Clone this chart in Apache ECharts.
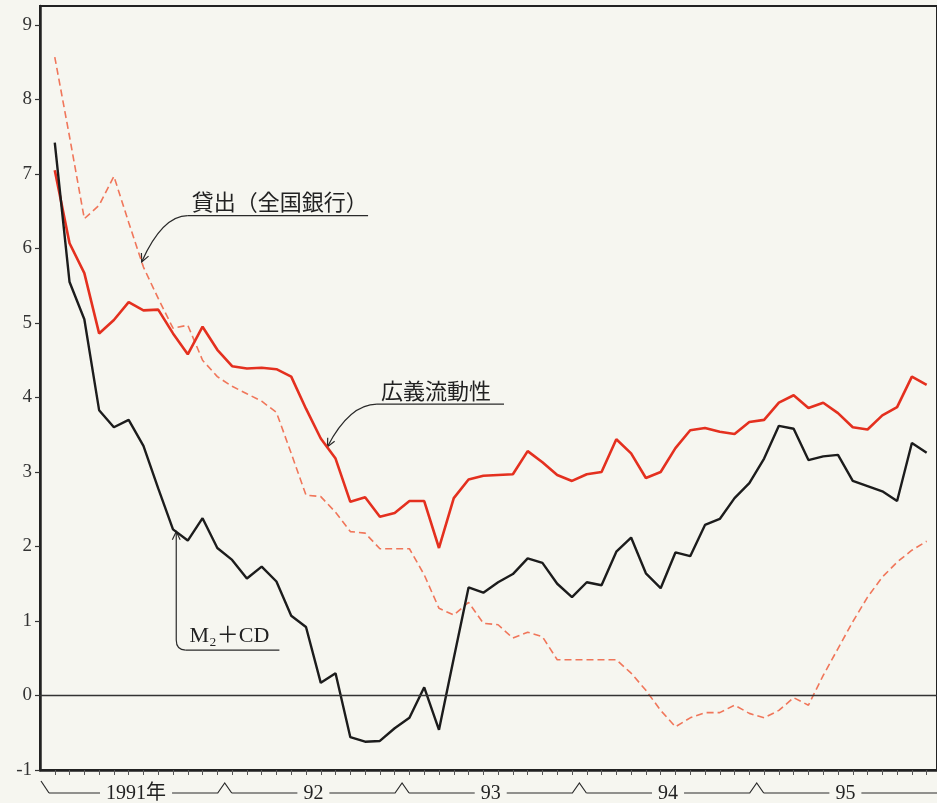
<!DOCTYPE html>
<html>
<head>
<meta charset="utf-8">
<title>M2+CD・広義流動性・貸出</title>
<script src="https://cdn.jsdelivr.net/npm/echarts@6/dist/echarts.min.js"></script>
<style>
html, body { margin: 0; padding: 0; background: #f6f6f0; }
#chart { width: 937px; height: 803px; }
</style>
</head>
<body>
<div id="chart"></div>
<script>
// monthly, Jan 1991 .. Dec 1995 (index 0..59)
const years = ['1991年', '92', '93', '94', '95']
const yTicks = [-1, 0, 1, 2, 3, 4, 5, 6, 7, 8, 9]

const m2cd = [
  7.42, 5.55, 5.05, 3.83, 3.60, 3.70, 3.35, 2.78, 2.23, 2.08, 2.38, 1.98,
  1.82, 1.57, 1.73, 1.53, 1.07, 0.92, 0.17, 0.30, -0.56, -0.62, -0.61, -0.44,
  -0.30, 0.11, -0.46, 0.50, 1.45, 1.38, 1.52, 1.63, 1.84, 1.78, 1.50, 1.32,
  1.52, 1.48, 1.93, 2.12, 1.64, 1.44, 1.92, 1.87, 2.29, 2.37, 2.65, 2.85,
  3.18, 3.62, 3.58, 3.16, 3.21, 3.23, 2.88, 2.81, 2.74, 2.61, 3.39, 3.26
]
const liquidity = [
  7.05, 6.07, 5.67, 4.86, 5.04, 5.28, 5.17, 5.18, 4.86, 4.58, 4.95, 4.64,
  4.42, 4.39, 4.40, 4.38, 4.28, 3.85, 3.45, 3.18, 2.60, 2.66, 2.40, 2.45,
  2.61, 2.61, 1.98, 2.65, 2.90, 2.95, 2.96, 2.97, 3.28, 3.13, 2.96, 2.88,
  2.97, 3.00, 3.44, 3.25, 2.92, 3.00, 3.32, 3.56, 3.59, 3.54, 3.51, 3.67,
  3.70, 3.93, 4.03, 3.86, 3.93, 3.79, 3.60, 3.57, 3.76, 3.87, 4.28, 4.17
]
const loans = [
  8.57, 7.50, 6.40, 6.58, 6.97, 6.35, 5.75, 5.33, 4.93, 4.97, 4.50, 4.28,
  4.15, 4.05, 3.95, 3.80, 3.25, 2.69, 2.67, 2.46, 2.20, 2.18, 1.97, 1.97,
  1.97, 1.62, 1.17, 1.08, 1.25, 0.97, 0.95, 0.77, 0.85, 0.79, 0.48, 0.48,
  0.48, 0.48, 0.48, 0.30, 0.07, -0.20, -0.42, -0.30, -0.23, -0.23, -0.13, -0.24,
  -0.30, -0.20, -0.03, -0.13, 0.27, 0.63, 0.99, 1.32, 1.59, 1.79, 1.95, 2.07
]
const monthIdx = m2cd.map((v, i) => i)

const serif = '"Liberation Serif", "DejaVu Serif", "Noto Sans CJK JP", serif'
const ink = '#2a2a2a'

const myChart = echarts.init(document.getElementById('chart'))

const toPoints = arr => arr.map((v, i) => [i, v])

myChart.setOption({
  backgroundColor: '#f6f6f0',
  animation: false,
  grid: {
    left: 40,
    right: -3,
    top: 6,
    bottom: 33,
    show: true,
    borderColor: '#222',
    borderWidth: 2
  },
  xAxis: {
    type: 'value',
    min: -1,
    max: 59.7,
    axisLine: { show: true, onZero: false, lineStyle: { color: '#222', width: 2.5 } },
    axisTick: { show: true, customValues: monthIdx, length: 5, lineStyle: { color: '#555', width: 1 } },
    axisLabel: { show: false },
    splitLine: { show: false }
  },
  yAxis: {
    type: 'value',
    min: -1,
    max: 9.255,
    axisLine: { show: true, onZero: false, lineStyle: { color: '#222', width: 2.5 } },
    axisTick: { show: true, customValues: yTicks, length: 5, lineStyle: { color: '#333', width: 1.2 } },
    axisLabel: { customValues: yTicks, color: '#333', fontSize: 19, fontFamily: serif, margin: 8 },
    splitLine: { show: false }
  },
  series: [
    {
      name: '貸出（全国銀行）',
      type: 'line',
      data: toPoints(loans),
      symbol: 'none',
      z: 2,
      lineStyle: { color: '#f0765a', width: 1.6, type: [7, 4] }
    },
    {
      name: '広義流動性',
      type: 'line',
      data: toPoints(liquidity),
      symbol: 'none',
      z: 3,
      lineStyle: { color: '#e4301f', width: 2.6 }
    },
    {
      name: 'M₂＋CD',
      type: 'line',
      data: toPoints(m2cd),
      symbol: 'none',
      z: 4,
      lineStyle: { color: '#1c1c1c', width: 2.4 },
      markLine: {
        silent: true,
        symbol: ['none', 'none'],
        label: { show: false },
        lineStyle: { color: '#333', width: 1.4, type: 'solid' },
        data: [{ yAxis: 0 }]
      }
    }
  ]
})

// ---- annotations and the year bracket under the axis ----
const px = (x, y) => myChart.convertToPixel({ gridIndex: 0 }, [x, y])

const measure = (() => {
  const ctx = document.createElement('canvas').getContext('2d')
  return (text, font) => { ctx.font = font; return ctx.measureText(text).width }
})()

const lineEl = (points, w) => ({
  type: 'polyline',
  shape: { points },
  style: { stroke: ink, lineWidth: w || 1.2, fill: null },
  silent: true
})

function arrowHead (tip, from) {
  const dx = tip[0] - from[0]
  const dy = tip[1] - from[1]
  const len = Math.sqrt(dx * dx + dy * dy)
  const ux = dx / len
  const uy = dy / len
  const a = 0.45
  const L = 9
  const b1 = [tip[0] - L * (ux * Math.cos(a) - uy * Math.sin(a)), tip[1] - L * (uy * Math.cos(a) + ux * Math.sin(a))]
  const b2 = [tip[0] - L * (ux * Math.cos(-a) - uy * Math.sin(-a)), tip[1] - L * (uy * Math.cos(-a) + ux * Math.sin(-a))]
  return lineEl([b1, tip, b2], 1.2)
}

const notes = [
  { text: '貸出（全国銀行）', tip: [5.88, 5.82], lineY: 6.44, from: 9.0, to: 21.2, kind: 'curve' },
  { text: '広義流動性', tip: [18.45, 3.34], lineY: 3.91, from: 21.8, to: 30.4, kind: 'curve' },
  { text: 'M₂＋CD', tip: [8.22, 2.2], lineY: 0.61, from: 8.85, to: 15.2, kind: 'elbow' }
]

const graphics = []
const noteFont = '22px "Noto Sans CJK JP", sans-serif'

notes.forEach(n => {
  const s = px(n.from, n.lineY)
  const e = px(n.to, n.lineY)
  const t = px(n.tip[0], n.tip[1])
  graphics.push(lineEl([s, e], 1.3))
  graphics.push({
    type: 'text',
    silent: true,
    style: {
      text: n.text,
      x: s[0] + 4,
      y: s[1] - 3,
      align: 'left',
      verticalAlign: 'bottom',
      font: n.kind === 'elbow' ? '22px ' + serif : noteFont,
      fill: '#222'
    }
  })
  if (n.kind === 'curve') {
    const c = [s[0] - 0.55 * (s[0] - t[0]), s[1]]
    graphics.push({
      type: 'bezierCurve',
      silent: true,
      shape: { x1: s[0], y1: s[1], x2: t[0], y2: t[1], cpx1: c[0], cpy1: c[1] },
      style: { stroke: ink, lineWidth: 1.2, fill: null }
    })
    graphics.push(arrowHead(t, c))
  } else {
    graphics.push({
      type: 'bezierCurve',
      silent: true,
      shape: { x1: s[0], y1: s[1], x2: t[0], y2: s[1] - 10, cpx1: t[0], cpy1: s[1] },
      style: { stroke: ink, lineWidth: 1.2, fill: null }
    })
    graphics.push(lineEl([[t[0], s[1] - 10], t], 1.2))
    graphics.push(arrowHead(t, [t[0], t[1] + 20]))
  }
})

// year bracket
const base = px(0, -1)[1]
const yb = base + 23
const yearFont = '20px ' + serif
const left = px(-1, -1)[0]
let cursor = left + 9
graphics.push(lineEl([[left + 1, base + 11], [left + 9, yb]], 1.2))
years.forEach((label, k) => {
  const cx = px(12 * k + 5.5, -1)[0]
  const w = measure(label, yearFont)
  graphics.push(lineEl([[cursor, yb], [cx - w / 2 - 6, yb]]))
  graphics.push({
    type: 'text',
    silent: true,
    style: { text: label, x: cx, y: yb + 1, align: 'center', verticalAlign: 'middle', font: yearFont, fill: '#222' }
  })
  if (k < years.length - 1) {
    const bx = px(12 * k + 11.5, -1)[0]
    graphics.push(lineEl([[cx + w / 2 + 6, yb], [bx - 7, yb], [bx, yb - 10], [bx + 7, yb]]))
    cursor = bx + 7
  } else {
    graphics.push(lineEl([[cx + w / 2 + 6, yb], [940, yb]]))
  }
})

myChart.setOption({ graphic: { elements: graphics } })
window.onresize = myChart.resize
</script>
</body>
</html>
